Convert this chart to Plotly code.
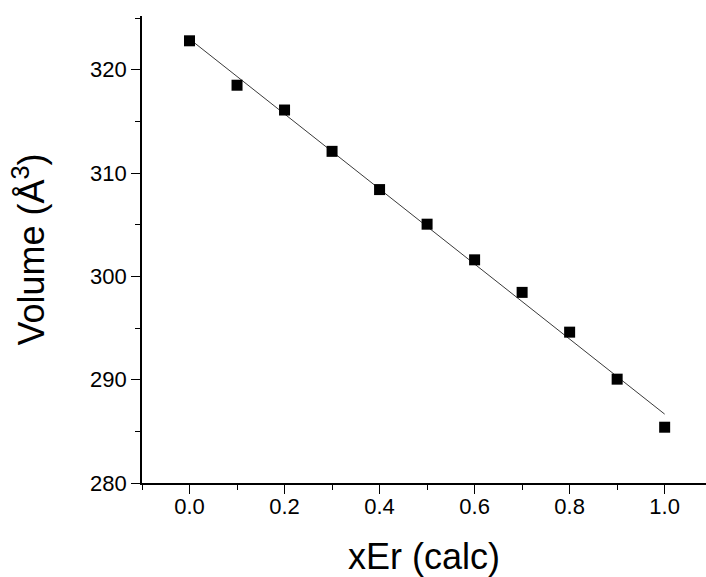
import numpy as np
import plotly.graph_objects as go

# Data
x_er = [0.0, 0.1, 0.2, 0.3, 0.4, 0.5, 0.6, 0.7, 0.8, 0.9, 1.0]
volume = [322.8, 318.5, 316.1, 312.1, 308.4, 305.05, 301.6, 298.45, 294.6, 290.05, 285.4]

x_ticks = [0.0, 0.2, 0.4, 0.6, 0.8, 1.0]
x_tick_labels = ["0.0", "0.2", "0.4", "0.6", "0.8", "1.0"]
y_ticks = [280, 290, 300, 310, 320]
y_tick_labels = ["280", "290", "300", "310", "320"]

# Linear fit of the data
slope, intercept = np.polyfit(x_er, volume, 1)
fit_x = [min(x_er), max(x_er)]
fit_y = [intercept + slope * v for v in fit_x]

FONT = "Liberation Sans, Arial, sans-serif"

fig = go.Figure()
fig.add_trace(go.Scatter(
    x=fit_x, y=fit_y, mode="lines",
    line=dict(color="#3a3a3a", width=1),
    showlegend=False, hoverinfo="skip",
))
fig.add_trace(go.Scatter(
    x=x_er, y=volume, mode="markers",
    marker=dict(symbol="square", size=11, color="black"),
    showlegend=False,
))

axis_common = dict(
    showline=True, linecolor="black", linewidth=1.6,
    ticks="outside", ticklen=9, tickwidth=1.4, tickcolor="black",
    showgrid=False, zeroline=False, mirror=False,
    tickfont=dict(family=FONT, size=22, color="black"),
)

fig.update_layout(
    width=706, height=577,
    margin=dict(l=142, r=0, t=16, b=94),
    paper_bgcolor="white", plot_bgcolor="white",
    font=dict(family=FONT, color="black"),
    xaxis=dict(
        range=[-0.1, 1.087],
        tickvals=x_ticks, ticktext=x_tick_labels,
        minor=dict(dtick=0.1, tick0=0, ticks="outside", ticklen=5, tickwidth=1.2, tickcolor="black"),
        ticklabelstandoff=-6,
        title=dict(text="xEr (calc)", font=dict(family=FONT, size=36, color="black"), standoff=26),
        **axis_common,
    ),
    yaxis=dict(
        range=[280, 325.2],
        tickvals=y_ticks, ticktext=y_tick_labels,
        minor=dict(dtick=5, tick0=280, ticks="outside", ticklen=5, tickwidth=1.2, tickcolor="black"),
        title=dict(text="Volume (Å<sup>3</sup>)", font=dict(family=FONT, size=36, color="black"), standoff=34),
        **axis_common,
    ),
)

# Remove the default page margin so the figure sits at the window's top-left corner
fig.write_html(
    "out.html",
    config={"displayModeBar": False},
    post_script="document.body.style.margin='0';document.body.style.overflow='hidden';",
)
